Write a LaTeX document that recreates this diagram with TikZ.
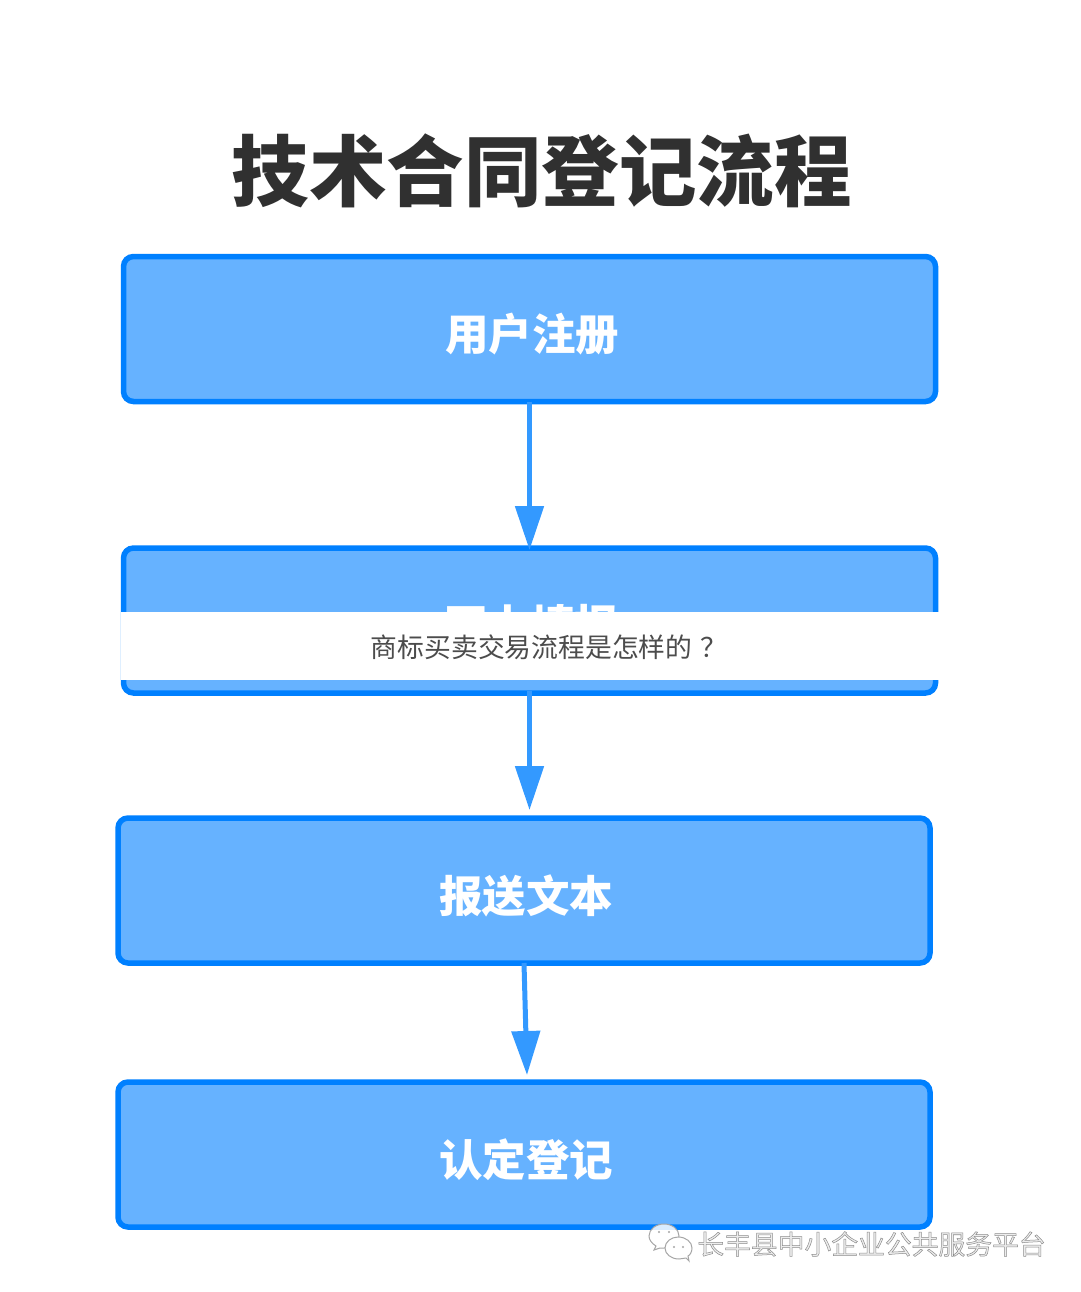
\documentclass[tikz,border=0pt]{standalone}
\usepackage{fontspec}
\newfontfamily\cjk{Noto Sans CJK SC}
\usetikzlibrary{arrows.meta,calc}
\definecolor{boxline}{HTML}{0080FF}
\definecolor{boxfill}{HTML}{66B2FF}
\definecolor{arrowc}{HTML}{3399FF}
\definecolor{titlec}{HTML}{303030}
\tikzset{
  flowbox/.style={draw=boxline,fill=boxfill,line width=5.5pt,rounded corners=10pt,minimum width=812pt,minimum height=145pt,inner sep=0pt,outer sep=0pt},
  boxlabel/.style={text=white,font=\cjk\bfseries\fontsize{43.5}{46}\selectfont,inner sep=0pt},
  flowarrow/.style={draw=arrowc,line width=5pt,-{Triangle[length=44pt,width=28pt,fill=arrowc]}}
}
\begin{document}
\begin{tikzpicture}[x=1pt,y=-1pt]
\useasboundingbox (0,0) rectangle (1080,1292);
\fill[white] (0,0) rectangle (1080,1292);
\node[text=titlec,font=\cjk\bfseries\fontsize{77.5}{82}\selectfont,inner sep=0pt] (title) at (541.5,171) {技术合同登记流程};
\node[flowbox] (b1) at (529.5,329) {};
\node[flowbox] (b2) at (529.5,620.5) {};
\node[flowbox] (b3) at (524,890.5) {};
\node[flowbox] (b4) at (524,1154.5) {};
\node[boxlabel] (l1) at (532,334.5) {用户注册};
\node[boxlabel] (l2) at (531,625.5) {网上填报};
\node[boxlabel] (l3) at (526,895.5) {报送文本};
\node[boxlabel] (l4) at (526,1159.5) {认定登记};
\coordinate (t2) at ($(b2.south)+(0,-2)$);
\coordinate (e2) at (529.5,810);
\coordinate (e3) at (527,1075);
\draw[flowarrow,shorten >=-2pt] (b1.south) -- (b2.north);
\draw[flowarrow] (t2) -- (e2);
\draw[flowarrow] (b3.south) -- (e3);
\fill[white] (121,612) rectangle (940,680);
\node[text=black!70,font=\cjk\fontsize{26.8}{30}\selectfont,inner sep=0pt] (band) at (549,647) {商标买卖交易流程是怎样的\hspace{8pt}？};
% watermark icon
\path[draw=black!35,line width=1pt,fill=white,fill opacity=.85]
  (654,1250) -- (656,1246) .. controls (651,1243) and (649,1239) .. (649,1236)
  .. controls (649,1229) and (656,1224) .. (664,1224)
  .. controls (672,1224) and (679,1229) .. (679,1236)
  .. controls (679,1243) and (672,1248) .. (664,1248) -- (660,1248) -- cycle;
\path[draw=black!35,line width=1pt,fill=white]
  (689,1261) -- (686,1258) -- (679,1259)
  .. controls (671,1259) and (665,1254) .. (665,1248)
  .. controls (665,1242) and (671,1237) .. (678,1237)
  .. controls (686,1237) and (692,1242) .. (692,1248)
  .. controls (692,1252) and (690,1255) .. (688,1256) -- cycle;
\fill[black!35] (659,1232) circle (1.2) (669,1232) circle (1.2) (674,1247) circle (1.2) (683,1247) circle (1.2);
\node[text=white,font=\cjk\fontsize{26.8}{30}\selectfont,inner sep=0pt] (mark) at (871.5,1244) {\special{pdf:code q 2 Tr 0.5 w 0.55 0.55 0.55 RG 0.93 0.93 0.93 rg}长丰县中小企业公共服务平台\special{pdf:code Q}};
\end{tikzpicture}
\end{document}
